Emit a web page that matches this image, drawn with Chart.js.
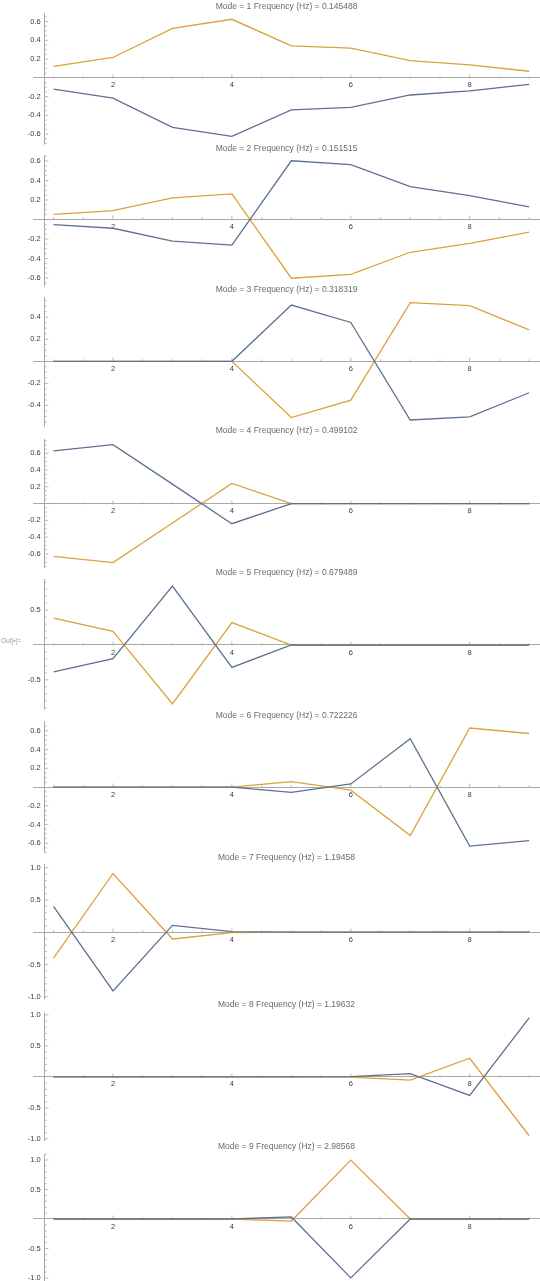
<!DOCTYPE html>
<html><head><meta charset="utf-8">
<script src="https://cdn.jsdelivr.net/npm/chart.js@4.4.1/dist/chart.umd.min.js"></script>
<style>
html,body{margin:0;padding:0;background:#fff;width:540px;height:1281px;overflow:hidden;}
#wrap{position:relative;width:540px;height:1281px;overflow:hidden;}
.panel{position:absolute;left:0;width:540px;}
#out{position:absolute;left:1px;top:637px;font:6.5px "Liberation Sans",Arial,sans-serif;color:#a0a0a0;white-space:nowrap;}
</style></head><body>
<div id="wrap"><div id="out">Out[•]=</div></div>
<script>
// ---- data ----
const dof = [1, 2, 3, 4, 5, 6, 7, 8, 9];
const modeNumbers = [1, 2, 3, 4, 5, 6, 7, 8, 9];
const frequenciesHz = ["0.145488", "0.151515", "0.318319", "0.499102", "0.679489", "0.722226", "1.19458", "1.19632", "2.98568"];

const mode1Blue   = [-0.121, -0.217, -0.528, -0.624, -0.341, -0.316, -0.183, -0.139, -0.070];
const mode1Orange = [ 0.121,  0.217,  0.528,  0.624,  0.341,  0.316,  0.183,  0.139,  0.070];
const mode2Blue   = [-0.053, -0.090, -0.221, -0.263,  0.602,  0.563,  0.336,  0.245,  0.129];
const mode2Orange = [ 0.053,  0.090,  0.221,  0.263, -0.602, -0.563, -0.336, -0.245, -0.129];
const mode3Blue   = [0, 0, 0, 0,  0.510,  0.352, -0.532, -0.504, -0.285];
const mode3Orange = [0, 0, 0, 0, -0.510, -0.352,  0.532,  0.504,  0.285];
const mode4Blue   = [ 0.630,  0.704,  0.232, -0.240, 0, 0, 0, 0, 0];
const mode4Orange = [-0.630, -0.704, -0.232,  0.240, 0, 0, 0, 0, 0];
const mode5Blue   = [-0.385, -0.195,  0.846, -0.322, 0, 0, 0, 0, 0];
const mode5Orange = [ 0.385,  0.195, -0.846,  0.322, 0, 0, 0, 0, 0];
const mode6Blue   = [0, 0, 0, 0, -0.057,  0.033,  0.517, -0.630, -0.572];
const mode6Orange = [0, 0, 0, 0,  0.057, -0.033, -0.517,  0.630,  0.572];
const mode7Blue   = [ 0.400, -0.910,  0.105,  0.008, 0, 0, 0, 0, 0];
const mode7Orange = [-0.400,  0.910, -0.105, -0.008, 0, 0, 0, 0, 0];
const mode8Blue   = [0, 0, 0, 0, 0,  0.005,  0.052, -0.300,  0.950];
const mode8Orange = [0, 0, 0, 0, 0, -0.005, -0.052,  0.300, -0.950];
const mode9Blue   = [0, 0, 0, 0,  0.035, -0.998, 0, 0, 0];
const mode9Orange = [0, 0, 0, 0, -0.035,  0.998, 0, 0, 0];

const xTickLabels = [2, 4, 6, 8];
const yTicksFine  = [-0.6, -0.4, -0.2, 0.2, 0.4, 0.6];
const yTicksMode3 = [-0.4, -0.2, 0.2, 0.4];
const yTicksHalf  = [-0.5, 0.5];
const yTicksUnit  = [-1.0, -0.5, 0.5, 1.0];

// ---- layout (view geometry, px in page) ----
const frames = [
  {T: 6.2,    A: 13.1,   B: 144.6,  ymin: -0.712, ymax: 0.69,  minor: 0.05},
  {T: 148.3,  A: 155.5,  B: 286.4,  ymin: -0.686, ymax: 0.656, minor: 0.05},
  {T: 289.7,  A: 297.2,  B: 426.5,  ymin: -0.591, ymax: 0.581, minor: 0.05},
  {T: 430.9,  A: 438.8,  B: 568.0,  ymin: -0.768, ymax: 0.773, minor: 0.05},
  {T: 572.6,  A: 578.8,  B: 709.8,  ymin: -0.93,  ymax: 0.95,  minor: 0.1},
  {T: 715.3,  A: 721.5,  B: 853.0,  ymin: -0.704, ymax: 0.70,  minor: 0.05},
  {T: 857.4,  A: 864.0,  B: 999.3,  ymin: -1.04,  ymax: 1.057, minor: 0.1},
  {T: 1004.5, A: 1012.4, B: 1141.0, ymin: -1.035, ymax: 1.04,  minor: 0.1},
  {T: 1146.6, A: 1154.1, B: 1283.0, ymin: -1.085, ymax: 1.10,  minor: 0.1}
];
const panels = [
  [mode1Blue, mode1Orange, yTicksFine],
  [mode2Blue, mode2Orange, yTicksFine],
  [mode3Blue, mode3Orange, yTicksMode3],
  [mode4Blue, mode4Orange, yTicksFine],
  [mode5Blue, mode5Orange, yTicksHalf],
  [mode6Blue, mode6Orange, yTicksFine],
  [mode7Blue, mode7Orange, yTicksUnit],
  [mode8Blue, mode8Orange, yTicksUnit],
  [mode9Blue, mode9Orange, yTicksUnit]
];

const FONT = '"Liberation Sans", Arial, sans-serif';
const BLUE = '#5d7191';
const ORANGE = '#dba23a';
const AXIS = '#a8a8a8';
const LABEL = '#3c3c3c';
const TITLE = '#6a6a6a';
const PAD_LEFT = 33;
const X_MIN = 0.6543, X_MAX = 9.1825;
const Y_AXIS_AT = 0.834;     // x value where the vertical axis crosses
const Y_LABEL_AT = 0.7839;   // x value where the y tick labels end (3px left of the axis)
const TITLE_SIZE = 8.5, TITLE_LH = TITLE_SIZE * 1.2;

const mmaAxes = {
  id: 'mmaAxes',
  beforeDatasetsDraw(chart, args, opts) {
    const ctx = chart.ctx, xs = chart.scales.x, ys = chart.scales.y, ca = chart.chartArea;
    const y0 = Math.round(ys.getPixelForValue(0)) + 0.5;
    const x0 = Math.round(xs.getPixelForValue(Y_AXIS_AT)) + 0.5;
    ctx.save();
    ctx.strokeStyle = AXIS;
    ctx.lineWidth = 1;
    ctx.beginPath();
    ctx.moveTo(x0, ca.top); ctx.lineTo(x0, ca.bottom);   // vertical axis line
    ctx.stroke();
    ctx.lineWidth = 0.8;
    ctx.beginPath();
    for (let k = 2; k <= 18; k++) {
      const v = k / 2, p = xs.getPixelForValue(v);
      const len = (k % 4 === 0) ? 4 : 2.2;
      ctx.moveTo(p, y0); ctx.lineTo(p, y0 - len);
    }
    const st = opts.minor;
    for (let k = Math.ceil(ys.min / st); k <= Math.floor(ys.max / st); k++) {
      const v = k * st;
      if (Math.abs(v) < 1e-9) continue;
      const major = opts.major.some(m => Math.abs(m - v) < 1e-6);
      const p = ys.getPixelForValue(v);
      ctx.moveTo(x0, p); ctx.lineTo(x0 + (major ? 4 : 2.2), p);
    }
    ctx.stroke();
    ctx.restore();
  }
};

const wrap = document.getElementById('wrap');
panels.forEach((pn, i) => {
  const f = frames[i];
  const [blue, orange, yt] = pn;
  const divTop = Math.round(f.T - 6);
  const h = Math.round(f.B - divTop + 10);
  const padBottom = h - (f.B - divTop);
  const titlePadTop = (f.T - divTop) - TITLE_LH / 2;
  const titlePadBottom = (f.A - divTop) - titlePadTop - TITLE_LH;
  const div = document.createElement('div');
  div.className = 'panel';
  div.style.top = divTop + 'px';
  div.style.height = h + 'px';
  const cv = document.createElement('canvas');
  div.appendChild(cv);
  wrap.appendChild(div);
  new Chart(cv, {
    type: 'line',
    data: {
      datasets: [
        {data: dof.map((x, j) => ({x: x, y: blue[j]})), borderColor: BLUE, borderWidth: 1.3, pointRadius: 0, tension: 0, fill: false},
        {data: dof.map((x, j) => ({x: x, y: orange[j]})), borderColor: ORANGE, borderWidth: 1.3, pointRadius: 0, tension: 0, fill: false}
      ]
    },
    options: {
      responsive: true,
      maintainAspectRatio: false,
      animation: false,
      events: [],
      layout: {padding: {left: PAD_LEFT, right: 0, top: 0, bottom: padBottom}},
      plugins: {
        legend: {display: false},
        tooltip: {enabled: false},
        title: {
          display: true,
          text: 'Mode = ' + modeNumbers[i] + ' Frequency (Hz) = ' + frequenciesHz[i],
          color: TITLE,
          font: {family: FONT, size: TITLE_SIZE, weight: 'normal', lineHeight: 1.2},
          padding: {top: titlePadTop, bottom: titlePadBottom}
        },
        mmaAxes: {minor: f.minor, major: yt}
      },
      scales: {
        x: {
          type: 'linear', min: X_MIN, max: X_MAX,
          position: {y: 0},
          grid: {display: false, drawTicks: false},
          border: {display: true, color: AXIS, width: 1},
          ticks: {font: {family: FONT, size: 7.5}, color: LABEL, padding: 3, maxRotation: 0,
                  callback: v => String(v)},
          afterBuildTicks: s => { s.ticks = xTickLabels.map(v => ({value: v})); }
        },
        y: {
          type: 'linear', min: f.ymin, max: f.ymax,
          position: {x: Y_LABEL_AT},
          grid: {display: false, drawTicks: false},
          border: {display: false},
          ticks: {font: {family: FONT, size: 7.5}, color: LABEL, padding: 0,
                  callback: v => Number(v).toFixed(1)},
          afterBuildTicks: s => { s.ticks = yt.map(v => ({value: v})); }
        }
      }
    },
    plugins: [mmaAxes]
  });
});
</script>
</body></html>
